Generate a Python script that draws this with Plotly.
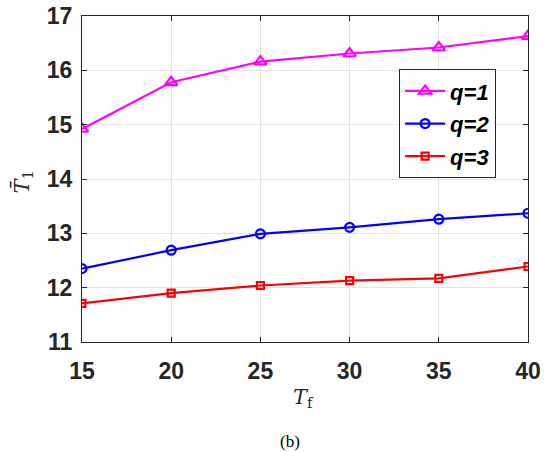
import plotly.graph_objects as go

# Final time horizon T_f and mean first-passage time for each q
tf = [15, 20, 25, 30, 35, 40]
q1 = [14.92, 15.78, 16.16, 16.31, 16.42, 16.63]
q2 = [12.35, 12.69, 12.99, 13.11, 13.26, 13.37]
q3 = [11.71, 11.90, 12.04, 12.13, 12.17, 12.39]

x_ticks = [15, 20, 25, 30, 35, 40]
y_ticks = [11, 12, 13, 14, 15, 16, 17]

series = [
    ("<b><i>q=1</i></b>", q1, "#ff00ff", "triangle-up-open", 11),
    ("<b><i>q=2</i></b>", q2, "#0000ff", "circle-open", 9),
    ("<b><i>q=3</i></b>", q3, "#ff0000", "square-open", 7),
]

fig = go.Figure()
for i, (name, vals, color, sym, size) in enumerate(series):
    fig.add_trace(go.Scatter(
        x=tf, y=vals, name=name, mode="lines+markers", legendgroup=f"g{i}",
        line=dict(color=color, width=2.2),
        marker=dict(symbol=sym, size=size, color=color, line=dict(width=2.2, color=color)),
    ))

axis_common = dict(
    showgrid=True, gridcolor="#e3e3e3", gridwidth=1,
    showline=True, linecolor="#262626", linewidth=1, mirror="ticks",
    ticks="inside", ticklen=5, tickcolor="#262626",
    tickfont=dict(family="Liberation Sans, Arial, sans-serif", size=23, color="#262626"),
    zeroline=False, automargin=False,
)

fig.update_xaxes(range=[15, 40], tickvals=x_ticks, ticklabelstandoff=8,
                 ticktext=[f"<b>{v}</b>" for v in x_ticks], **axis_common)
fig.update_yaxes(range=[11, 17], tickvals=y_ticks, ticklabelstandoff=4,
                 ticktext=[f"<b>{v}</b>" for v in y_ticks], **axis_common)

fig.update_layout(
    width=546, height=452,
    margin=dict(l=82, r=18, t=16, b=110, autoexpand=False),
    paper_bgcolor="white", plot_bgcolor="white",
    showlegend=True,
    legend=dict(
        x=0.711, y=0.837, xanchor="left", yanchor="top",
        bgcolor="white", bordercolor="#262626", borderwidth=1,
        font=dict(family="Liberation Sans, Arial, sans-serif", size=22, color="#000000"),
        tracegroupgap=1, itemwidth=40,
    ),
    annotations=[
        dict(text="<i>T</i><sub>f</sub>", xref="paper", yref="paper",
             x=0.496, y=-0.172, xanchor="center", yanchor="middle", showarrow=False,
             font=dict(family="DejaVu Serif, Liberation Serif, serif", size=21, color="#262626")),
        dict(text="<i>T\u0304</i><sub>1</sub>", xref="paper", yref="paper",
             x=-0.134, y=0.49, xanchor="center", yanchor="middle", showarrow=False,
             textangle=-90,
             font=dict(family="DejaVu Serif, Liberation Serif, serif", size=21, color="#262626")),
        dict(text="(b)", xref="paper", yref="paper",
             x=0.467, y=-0.306, xanchor="center", yanchor="middle", showarrow=False,
             font=dict(family="Liberation Serif, Times New Roman, serif", size=17, color="#000000")),
    ],
)

fig.write_html("out.html")
